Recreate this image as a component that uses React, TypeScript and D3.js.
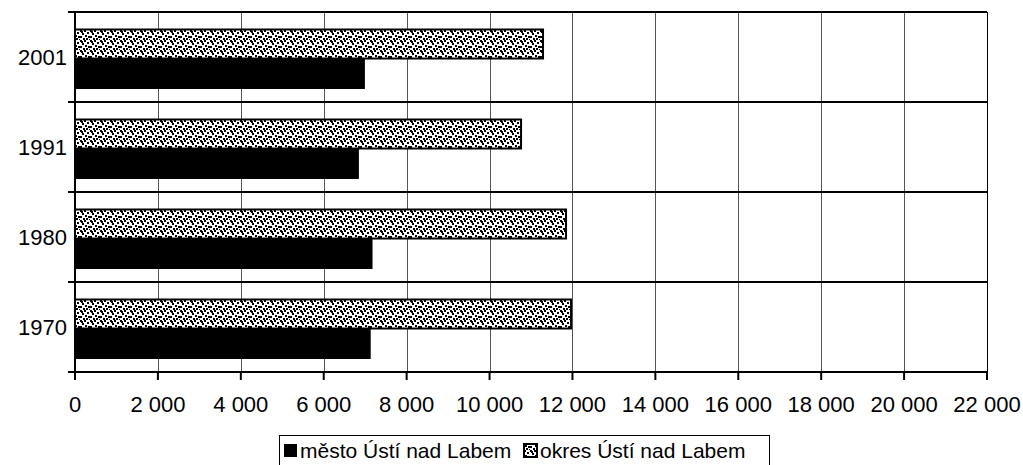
import React from "react";
import * as d3 from "d3";

const categories = ["1970", "1980", "1991", "2001"];
const seriesNames = ["okres Ústí nad Labem", "město Ústí nad Labem"];
const mestoValues = [7120, 7165, 6835, 6980];
const okresValues = [11966, 11845, 10760, 11290];
const xTicks = [0, 2000, 4000, 6000, 8000, 10000, 12000, 14000, 16000, 18000, 20000, 22000];

const W = 1023;
const H = 465;
const FONT = "'Liberation Sans', Arial, sans-serif";

const patternDots: [number, number][] = [
  [0, 0], [4, 0], [7, 2], [2, 3], [5, 5], [0, 6], [8, 6], [3, 8], [6, 8], [9, 9], [1, 1],
];

function fmt(v: number) {
  if (v === 0) return "0";
  const s = String(v);
  return s.slice(0, s.length - 3) + " " + s.slice(s.length - 3);
}

export default function App() {
  const x = d3.scaleLinear().domain([0, 22000]).range([75, 987]);
  const y = d3
    .scaleBand<string>()
    .domain([...categories].reverse())
    .range([12, 372])
    .paddingInner(0)
    .paddingOuter(0);
  const ys = d3
    .scaleBand<string>()
    .domain(seriesNames)
    .range([0, y.bandwidth()])
    .paddingInner(0)
    .paddingOuter(0.5)
    .align(0.55);

  const boundaries = [...categories.map((c) => y(c) as number), 372];

  return (
    <svg
      width={W}
      height={H}
      style={{ position: "absolute", left: 0, top: 0, background: "#fff" }}
      fontFamily={FONT}
    >
      <defs>
        <pattern id="dots" width={10} height={10} patternUnits="userSpaceOnUse">
          <rect width={10} height={10} fill="#fff" />
          {patternDots.map(([px, py], i) => (
            <rect key={i} x={px} y={py} width={2} height={2} fill="#000" shapeRendering="crispEdges" />
          ))}
        </pattern>
      </defs>
      <rect width={W} height={H} fill="#fff" />

      {/* vertical gridlines */}
      {xTicks.slice(1).map((t) => (
        <line
          key={t}
          x1={Math.round(x(t)) + 0.5}
          x2={Math.round(x(t)) + 0.5}
          y1={12}
          y2={372}
          stroke={t === 22000 ? "#000" : "#555"}
          strokeWidth={1}
        />
      ))}

      {/* horizontal category gridlines */}
      {boundaries.slice(0, 4).map((b, i) => (
        <line key={i} x1={68} x2={987} y1={b} y2={b} stroke="#000" strokeWidth={2} />
      ))}

      {/* bars */}
      {categories.map((c, i) => {
        const y0 = y(c) as number;
        const yo = y0 + (ys(seriesNames[0]) as number);
        const ym = y0 + (ys(seriesNames[1]) as number);
        const bh = ys.bandwidth();
        return (
          <g key={c}>
            <rect
              x={x(0)}
              y={yo + 1}
              width={x(okresValues[i]) - x(0)}
              height={bh - 1}
              fill="url(#dots)"
              stroke="#000"
              strokeWidth={2}
            />
            <rect
              x={x(0)}
              y={ym}
              width={x(mestoValues[i]) - x(0)}
              height={bh}
              fill="#000"
              stroke="#000"
              strokeWidth={1}
            />
          </g>
        );
      })}

      {/* left axis */}
      <line x1={75} x2={75} y1={11} y2={373} stroke="#000" strokeWidth={2} />
      {boundaries.map((b, i) => (
        <line key={i} x1={68} x2={75} y1={b} y2={b} stroke="#000" strokeWidth={2} />
      ))}
      {categories.map((c) => (
        <text
          key={c}
          x={67}
          y={(y(c) as number) + y.bandwidth() / 2}
          textAnchor="end"
          dominantBaseline="central"
          fontSize={22}
          fill="#000"
        >
          {c}
        </text>
      ))}

      {/* bottom axis */}
      <line x1={68} x2={988} y1={372} y2={372} stroke="#000" strokeWidth={2} />
      {xTicks.map((t) => (
        <g key={t}>
          <line x1={x(t)} x2={x(t)} y1={372} y2={380} stroke="#000" strokeWidth={2} />
          <text x={x(t)} y={412} textAnchor="middle" fontSize={22} fill="#000">
            {fmt(t)}
          </text>
        </g>
      ))}

      {/* legend */}
      <rect x={279.5} y={435.5} width={490} height={40} fill="#fff" stroke="#000" strokeWidth={1} />
      <rect x={284} y={444} width={13} height={13} fill="#000" />
      <text x={300} y={458} fontSize={21} fill="#000">
        {seriesNames[1]}
      </text>
      <rect x={524} y={444} width={13} height={13} fill="url(#dots)" stroke="#000" strokeWidth={2} />
      <text x={540} y={458} fontSize={21} fill="#000">
        {seriesNames[0]}
      </text>
    </svg>
  );
}
